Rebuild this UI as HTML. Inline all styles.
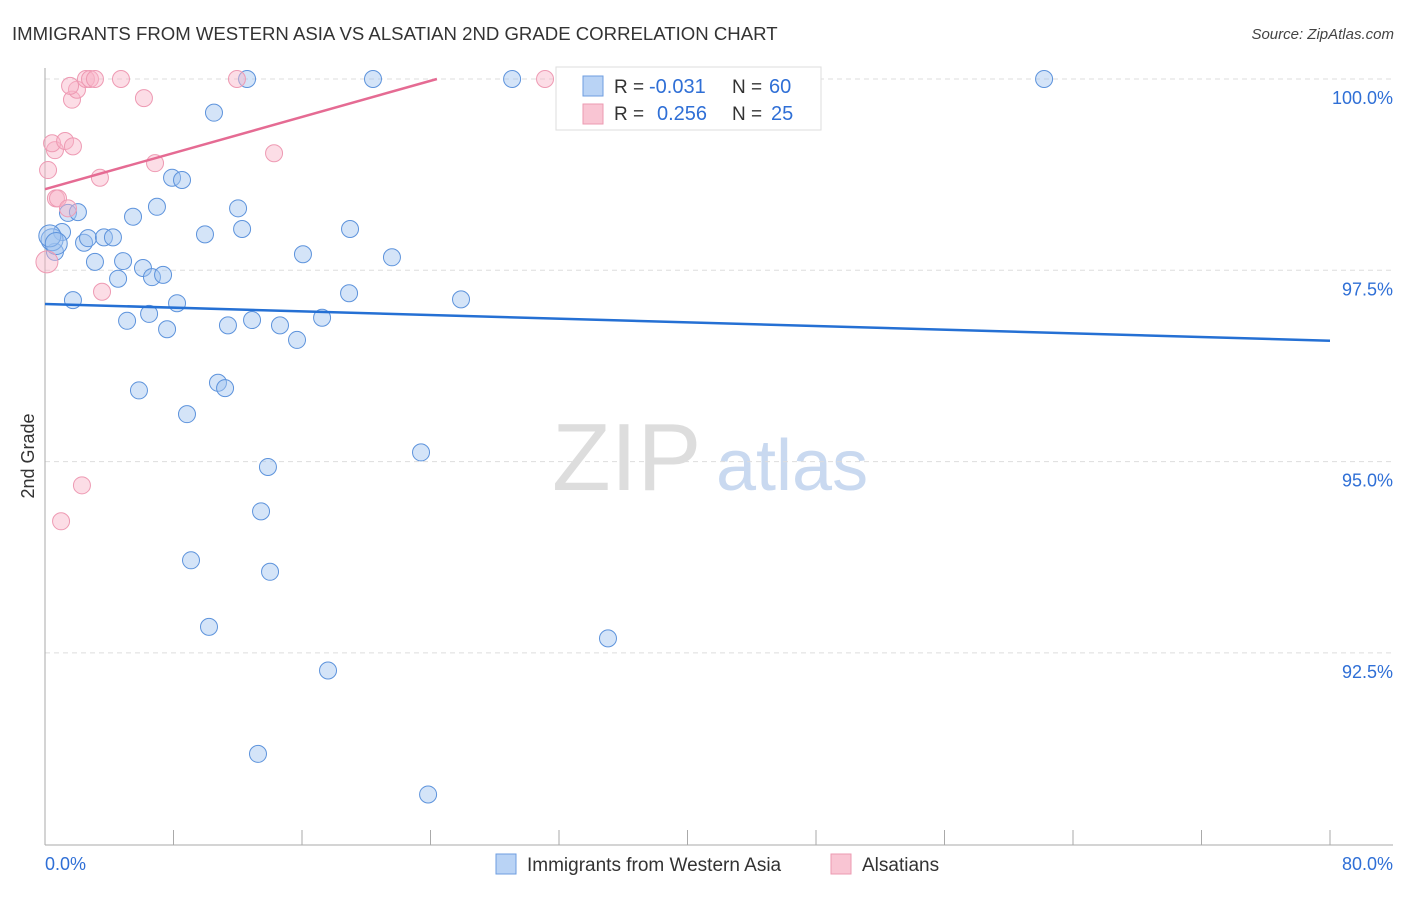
<!DOCTYPE html>
<html><head><meta charset="utf-8"><style>
body{margin:0;background:#fff;font-family:"Liberation Sans",sans-serif;}
svg text{font-family:"Liberation Sans",sans-serif;}
</style></head><body>
<svg id="chart" width="1406" height="892" xmlns="http://www.w3.org/2000/svg">
<text x="12" y="40" font-size="18.6" fill="#333">IMMIGRANTS FROM WESTERN ASIA VS ALSATIAN 2ND GRADE CORRELATION CHART</text>
<text x="1394" y="39" font-size="15" fill="#444" text-anchor="end" font-style="italic">Source: ZipAtlas.com</text>
<g><text x="552" y="490" font-size="96" fill="#ddd" font-family="Liberation Serif,serif">ZIP</text><text x="716" y="490" font-size="72" fill="#c9d9f0">atlas</text></g>
<g id="grid"></g><g id="axes"></g><g id="marks"></g>
<text transform="translate(34,456) rotate(-90)" font-size="18" fill="#333" text-anchor="middle">2nd Grade</text>
<g>
<rect x="556" y="67" width="265" height="63" fill="#fff" stroke="#ddd"/>
<rect x="583" y="76" width="20" height="20" fill="#b9d3f5" stroke="#6e9ee0"/>
<rect x="583" y="104" width="20" height="20" fill="#f9c5d3" stroke="#ec9ab2"/>
<text x="614" y="93" font-size="19" fill="#333">R =</text>
<text x="649" y="93" font-size="20" fill="#2f6fd6">-0.031</text>
<text x="732" y="93" font-size="19" fill="#333">N =</text>
<text x="769" y="93" font-size="20" fill="#2f6fd6">60</text>
<text x="614" y="120" font-size="19" fill="#333">R =</text>
<text x="657" y="120" font-size="20" fill="#2f6fd6">0.256</text>
<text x="732" y="120" font-size="19" fill="#333">N =</text>
<text x="771" y="120" font-size="20" fill="#2f6fd6">25</text>
</g>
<g>
<rect x="496" y="854" width="20" height="20" fill="#b9d3f5" stroke="#6e9ee0"/>
<text x="527" y="871" font-size="19" fill="#333">Immigrants from Western Asia</text>
<rect x="831" y="854" width="20" height="20" fill="#f9c5d3" stroke="#ec9ab2"/>
<text x="862" y="871" font-size="19" fill="#333">Alsatians</text>
</g>
</svg>
<script>
const yTicks=[100,97.5,95,92.5];
const yTickLabels=["100.0%","97.5%","95.0%","92.5%"];
const xTickLabels=["0.0%","80.0%"];
const blueX=[12.58,20.42,29.08,42.34,62.20,10.52,7.91,8.53,6.97,12.02,5.48,1.43,2.05,9.96,12.27,18.99,1.06,2.43,2.68,3.67,4.23,0.62,3.11,4.86,6.10,6.66,7.35,4.55,16.06,21.60,18.93,25.90,1.74,8.22,6.48,5.11,7.60,11.39,12.89,14.63,17.25,15.69,10.77,11.21,5.85,8.84,23.41,13.88,13.45,9.09,14.01,10.21,35.05,17.62,13.26,23.85,0.44,0.30,0.7];
const blueY=[100,100,100,100,100,99.56,98.71,98.68,98.33,98.31,98.20,98.25,98.26,97.97,98.04,98.04,98.00,97.86,97.92,97.93,97.93,97.74,97.61,97.62,97.53,97.41,97.44,97.39,97.71,97.67,97.20,97.12,97.11,97.07,96.93,96.84,96.73,96.78,96.85,96.78,96.88,96.59,96.03,95.96,95.93,95.62,95.12,94.93,94.35,93.71,93.56,92.84,92.69,92.27,91.18,90.65,97.90,97.95,97.85];
const pinkX=[0.12,1.00,2.30,3.55,0.68,0.81,1.43,0.19,0.62,0.44,1.25,1.74,3.42,6.85,14.26,6.16,1.68,1.99,1.56,2.55,2.80,3.11,4.73,11.95,31.13];
const pinkY=[97.61,94.22,94.69,97.22,98.44,98.44,98.31,98.81,99.07,99.16,99.19,99.12,98.71,98.90,99.03,99.75,99.73,99.86,99.91,100,100,100,100,100,100];
const blueTrend=[97.06,96.58];
const pinkTrend=[98.56,100];
const pinkTrendEndX=24.4;
const X=v=>45+v/80*1285, Y=v=>79+(100-v)*76.52;
const NS="http://www.w3.org/2000/svg";
function mk(p,t,a){const e=document.createElementNS(NS,t);for(const k in a)e.setAttribute(k,a[k]);p.appendChild(e);return e;}
const grid=document.getElementById('grid'),axes=document.getElementById('axes'),marks=document.getElementById('marks');
yTicks.forEach((t,i)=>{
 const l=mk(grid,'line',{x1:45,x2:1393,y1:Y(t),y2:Y(t),stroke:'#ddd','stroke-dasharray':'5,4'});
 
 
 const tx=mk(axes,'text',{x:1393,y:Y(t)+25,'font-size':18,fill:'#2f6fd6','text-anchor':'end'});
 tx.textContent=yTickLabels[i];
 
 
});
const ax=mk(axes,'line',{x1:45,x2:45,y1:68,y2:845,stroke:'#aaa'});


const bx=mk(axes,'line',{x1:45,x2:1393,y1:845,y2:845,stroke:'#aaa'});


for(let i=0;i<=10;i++){const t=mk(axes,'line',{x1:X(i*8),x2:X(i*8),y1:830,y2:845,stroke:'#aaa'});
 
 }
[[0,'start',45],[80,'end',1393]].forEach((d,i)=>{const t=mk(axes,'text',{x:d[2],y:870,'font-size':18,fill:'#2f6fd6','text-anchor':d[1]});t.textContent=xTickLabels[i];
 
 });
blueX.forEach((x,i)=>{const c=mk(marks,'circle',{cx:X(x),cy:Y(blueY[i]),r:i>=56?11:8.5,fill:'rgba(160,196,240,0.45)',stroke:'#5d93dc','stroke-width':1});
 
 });
pinkX.forEach((x,i)=>{const c=mk(marks,'circle',{cx:X(x),cy:Y(pinkY[i]),r:i==0?11:8.5,fill:'rgba(248,180,200,0.45)',stroke:'#ee9ab3','stroke-width':1});
 
 });
const bl=mk(marks,'line',{x1:X(0),y1:Y(blueTrend[0]),x2:X(80),y2:Y(blueTrend[1]),stroke:'#2570d4','stroke-width':2.5});


const pl=mk(marks,'line',{x1:X(0),y1:Y(pinkTrend[0]),x2:X(pinkTrendEndX),y2:Y(pinkTrend[1]),stroke:'#e56b93','stroke-width':2.5});


</script>
</body></html>
